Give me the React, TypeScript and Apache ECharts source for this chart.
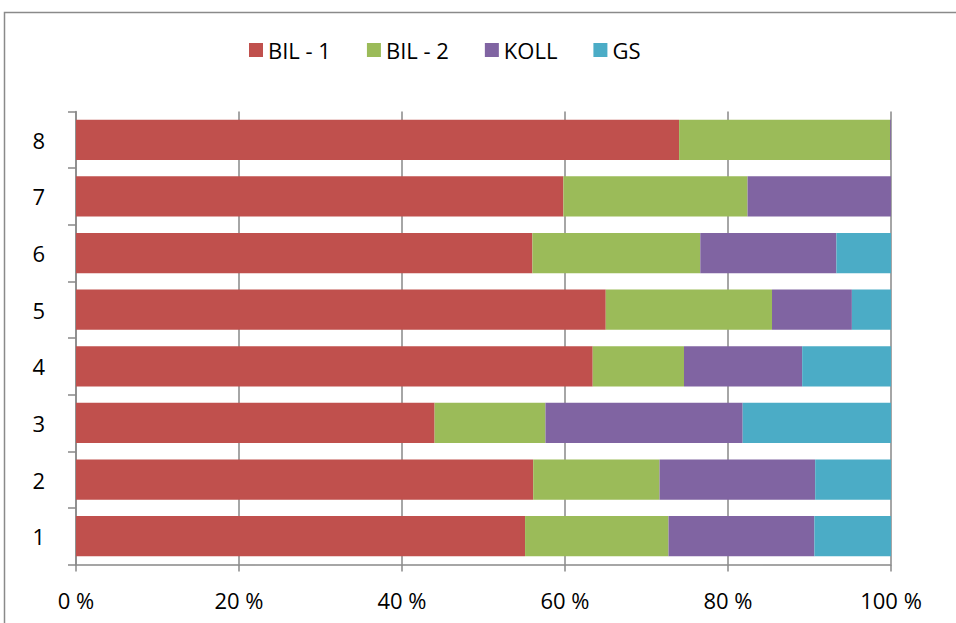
import React, { useEffect, useRef } from "react";
import * as echarts from "echarts";

const categories = ["1", "2", "3", "4", "5", "6", "7", "8"];
const bil1 = [55.1, 56.1, 44.0, 63.4, 65.0, 56.0, 59.8, 74.0];
const bil2 = [17.6, 15.5, 13.6, 11.2, 20.4, 20.6, 22.6, 25.9];
const koll = [17.9, 19.1, 24.2, 14.5, 9.8, 16.7, 17.6, 0.1];
const gs = [9.4, 9.3, 18.2, 10.9, 4.8, 6.7, 0, 0];
const seriesNames = ["BIL - 1", "BIL - 2", "KOLL", "GS"];
const colors = ["#C0504D", "#9BBB59", "#8064A2", "#4BACC6"];
const xTicks = [0, 20, 40, 60, 80, 100];

export default function App() {
  const ref = useRef<HTMLDivElement>(null);
  useEffect(() => {
    document.body.style.margin = "0";
    const chart = echarts.init(ref.current!, undefined, { renderer: "svg" });
    const font = "'Open Sans', sans-serif";
    const data = [bil1, bil2, koll, gs];
    chart.setOption({
      animation: false,
      backgroundColor: "#ffffff",
      textStyle: { fontFamily: font },
      graphic: [
        {
          type: "rect",
          shape: { x: 4.5, y: 12.5, width: 1000, height: 700 },
          style: { fill: "none", stroke: "#8a8a8a", lineWidth: 1.5 },
          silent: true,
        },
      ],
      legend: {
        top: 34,
        left: 244,
        itemWidth: 14,
        itemHeight: 14,
        itemGap: 36,
        icon: "rect",
        textStyle: { fontSize: 22, color: "#000", fontFamily: font },
        data: seriesNames,
      },
      grid: { left: 76, right: 65, top: 111.5, bottom: 58.5, containLabel: false },
      xAxis: {
        type: "value",
        min: xTicks[0],
        max: xTicks[xTicks.length - 1],
        interval: 20,
        axisLine: { show: true, lineStyle: { color: "#888", width: 1.5 } },
        axisTick: { show: true, length: 7, lineStyle: { color: "#888", width: 1.5 } },
        splitLine: { show: true, lineStyle: { color: "#888", width: 1.5 } },
        axisLabel: {
          formatter: "{value} %",
          fontSize: 22,
          color: "#000",
          margin: 24,
          fontFamily: font,
        },
      },
      yAxis: {
        type: "category",
        data: categories,
        axisLine: { show: true, lineStyle: { color: "#888", width: 1.5 } },
        axisTick: { show: true, length: 8, lineStyle: { color: "#888", width: 1.5 } },
        axisLabel: { fontSize: 22, color: "#000", margin: 31, fontFamily: font },
      },
      series: seriesNames.map((name, i) => ({
        name,
        type: "bar",
        stack: "total",
        barCategoryGap: "29%",
        data: data[i],
        itemStyle: { color: colors[i] },
      })),
    });
    return () => chart.dispose();
  }, []);
  return <div ref={ref} style={{ width: 956, height: 623 }} />;
}
